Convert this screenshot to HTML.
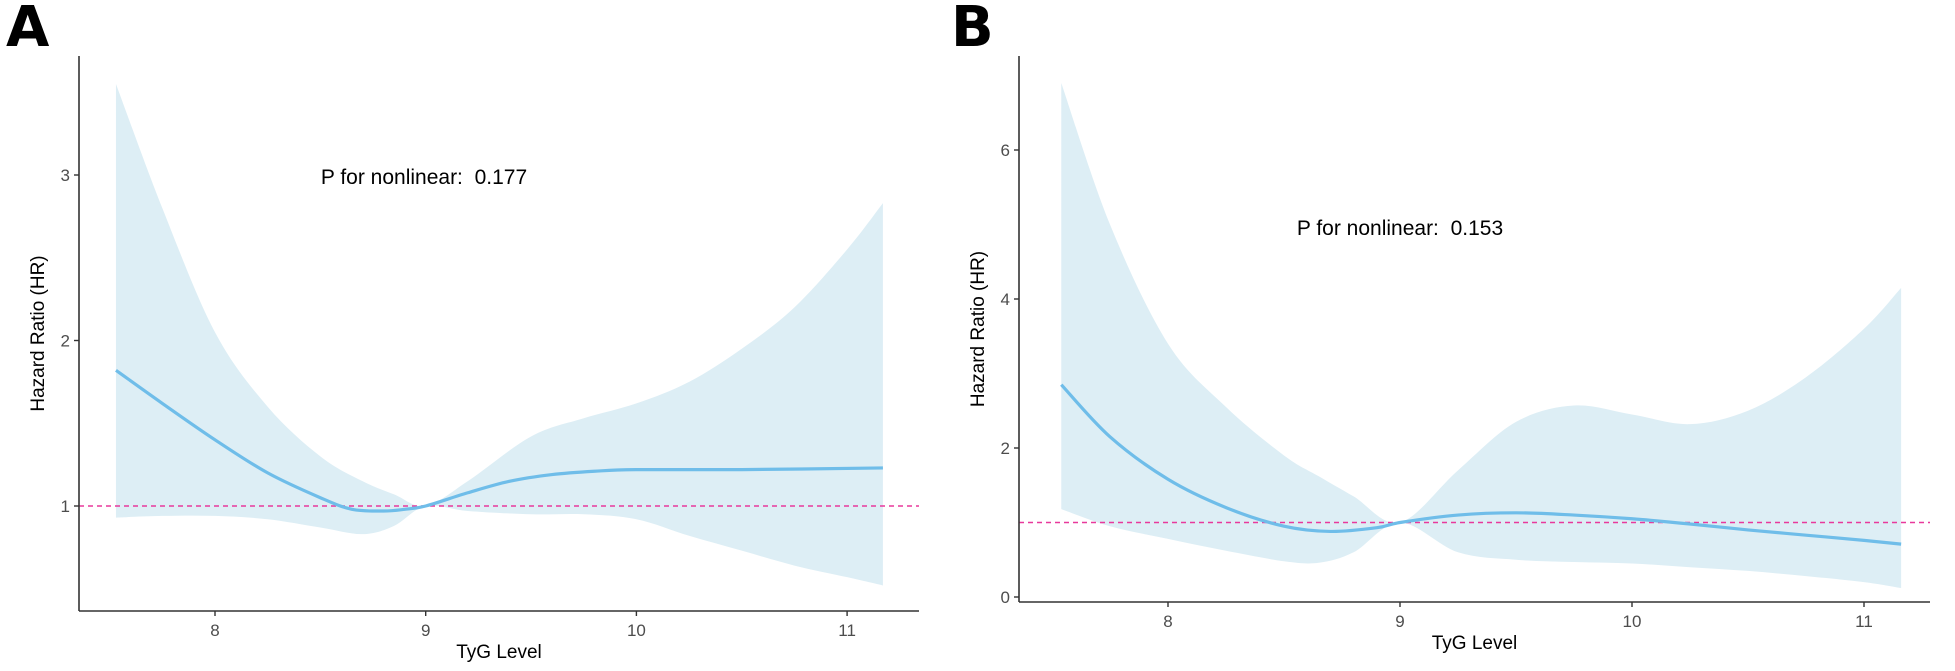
<!DOCTYPE html>
<html><head><meta charset="utf-8"><style>
html,body{margin:0;padding:0;background:#fff}
svg{display:block;font-family:"Liberation Sans",Arial,sans-serif}
</style></head><body>
<svg id="chart" width="1955" height="671" viewBox="0 0 1955 671" xmlns="http://www.w3.org/2000/svg"></svg>
<script>
// Panel A data
const xA = [7.53,7.75,8.0,8.25,8.5,8.65,8.8,8.9,9.0,9.2,9.4,9.6,9.8,10.0,10.5,11.17];
const hrA = [1.82,1.62,1.40,1.20,1.05,0.98,0.97,0.98,1.0,1.08,1.15,1.19,1.21,1.22,1.22,1.23];
const bxA = [7.53,7.75,8.0,8.25,8.5,8.7,8.85,9.0,9.2,9.5,9.75,10.0,10.25,10.5,10.75,11.0,11.17];
const upA = [3.55,2.8,2.05,1.6,1.3,1.15,1.07,1.0,1.15,1.42,1.53,1.62,1.75,1.95,2.2,2.55,2.83];
const loA = [0.93,0.94,0.94,0.92,0.87,0.83,0.88,1.0,0.97,0.95,0.95,0.92,0.82,0.73,0.64,0.57,0.52];
const ticksXA = [8,9,10,11];
const ticksYA = [1,2,3];
// Panel B data
const xB = [7.54,7.75,8.0,8.25,8.5,8.7,8.9,9.0,9.25,9.5,9.75,10.0,10.25,10.5,10.75,11.0,11.16];
const hrB = [2.85,2.15,1.58,1.2,0.95,0.88,0.93,1.0,1.1,1.13,1.1,1.05,0.98,0.9,0.83,0.76,0.71];
const bxB = [7.54,7.75,8.0,8.25,8.5,8.65,8.8,9.0,9.25,9.5,9.75,10.0,10.25,10.5,10.75,11.0,11.16];
const upB = [6.9,5.0,3.4,2.55,1.9,1.62,1.35,1.0,1.7,2.35,2.57,2.45,2.32,2.5,2.95,3.6,4.15];
const loB = [1.18,0.95,0.78,0.62,0.48,0.46,0.6,1.0,0.6,0.5,0.47,0.45,0.4,0.35,0.28,0.2,0.12];
const ticksXB = [8,9,10,11];
const ticksYB = [0,2,4,6];

const NS="http://www.w3.org/2000/svg";
const svg=document.getElementById('chart');
function mk(tag,attrs,parent){const e=document.createElementNS(NS,tag);for(const k in attrs)e.setAttribute(k,attrs[k]);(parent||svg).appendChild(e);return e;}
function smoothPath(pts){let d='M'+pts[0][0]+','+pts[0][1];for(let i=0;i<pts.length-1;i++){const p0=pts[Math.max(0,i-1)],p1=pts[i],p2=pts[i+1],p3=pts[Math.min(pts.length-1,i+2)];const c1x=p1[0]+(p2[0]-p0[0])/6,c1y=p1[1]+(p2[1]-p0[1])/6,c2x=p2[0]-(p3[0]-p1[0])/6,c2y=p2[1]-(p3[1]-p1[1])/6;d+=` C${c1x},${c1y} ${c2x},${c2y} ${p2[0]},${p2[1]}`;}return d;}

function panel(cfg){
  const g=mk('g',{});
  
  
  const sx=v=>cfg.x0+(v-cfg.xv0)*cfg.kx;
  const sy=v=>cfg.y0-(v-cfg.yv0)*cfg.ky;
  const up=cfg.bx.map((x,i)=>[sx(x),sy(cfg.up[i])]);
  const lo=cfg.bx.map((x,i)=>[sx(x),sy(cfg.lo[i])]).reverse();
  let d=smoothPath(up);
  d+=' L'+lo[0][0]+','+lo[0][1]+smoothPath(lo).replace(/^M[^C]*/,' ')+' Z';
  const band=mk('path',{d:d,fill:'#ddeef5',stroke:'none'},g);
  
  
  const ref=mk('line',{x1:cfg.ax,x2:cfg.axEnd,y1:sy(1),y2:sy(1),stroke:'#e8399c','stroke-width':1.6,'stroke-dasharray':'5,4'},g);
  
  
  const cp=cfg.x.map((x,i)=>[sx(x),sy(cfg.hr[i])]);
  const cur=mk('path',{d:smoothPath(cp),fill:'none',stroke:'#6fbde9','stroke-width':3.2},g);
  
  
  const ya=mk('line',{x1:cfg.ax,x2:cfg.ax,y1:56,y2:cfg.axY,stroke:'#333','stroke-width':1.6},g);
  
  
  const xa=mk('line',{x1:cfg.ax,x2:cfg.axEnd,y1:cfg.axY,y2:cfg.axY,stroke:'#333','stroke-width':1.6},g);
  
  
  cfg.tx.forEach(t=>{
    mk('line',{x1:sx(t),x2:sx(t),y1:cfg.axY,y2:cfg.axY+5,stroke:'#333','stroke-width':1.4},g);
    const tl=mk('text',{x:sx(t),y:cfg.axY+25,'text-anchor':'middle','font-size':17,fill:'#4d4d4d'},g);
    tl.textContent=t;
    
    
  });
  cfg.ty.forEach(t=>{
    mk('line',{x1:cfg.ax-5,x2:cfg.ax,y1:sy(t),y2:sy(t),stroke:'#333','stroke-width':1.4},g);
    const tl=mk('text',{x:cfg.ax-9,y:sy(t)+6,'text-anchor':'end','font-size':17,fill:'#4d4d4d'},g);
    tl.textContent=t;
    
    
  });
  const xt=mk('text',{x:(cfg.ax+cfg.axEnd)/2,y:cfg.axY+47,'text-anchor':'middle','font-size':19,fill:'#000'},g);
  xt.textContent='TyG Level';
  
  
  const yt=mk('text',{x:0,y:0,'text-anchor':'middle','font-size':19,fill:'#000',transform:`translate(${cfg.ax-35},${(56+cfg.axY)/2}) rotate(-90)`},g);
  yt.textContent='Hazard Ratio (HR)';
  
  
  const pt=mk('text',{x:cfg.px,y:cfg.py,'text-anchor':'middle','font-size':21,fill:'#000'},g);
  pt.textContent=cfg.ptext;
  
  
  const lab=mk('text',{x:cfg.lx,y:46,'font-size':56,'font-weight':'bold',fill:'#000','font-family':'"DejaVu Sans","Liberation Sans",sans-serif'},g);
  lab.textContent=cfg.label;
  
  
}
panel({name:'panel-a',x:xA,hr:hrA,bx:bxA,up:upA,lo:loA,tx:ticksXA,ty:ticksYA,
  x0:215,xv0:8,kx:210.7,y0:506,yv0:1,ky:165.5,ax:79,axEnd:919,axY:611,
  px:424,py:184,ptext:'P for nonlinear:\u00a0 0.177',lx:6,label:'A'});
panel({name:'panel-b',x:xB,hr:hrB,bx:bxB,up:upB,lo:loB,tx:ticksXB,ty:ticksYB,
  x0:1168,xv0:8,kx:232,y0:597,yv0:0,ky:74.5,ax:1019,axEnd:1930,axY:602,
  px:1400,py:235,ptext:'P for nonlinear:\u00a0 0.153',lx:951,label:'B'});
</script>
</body></html>
